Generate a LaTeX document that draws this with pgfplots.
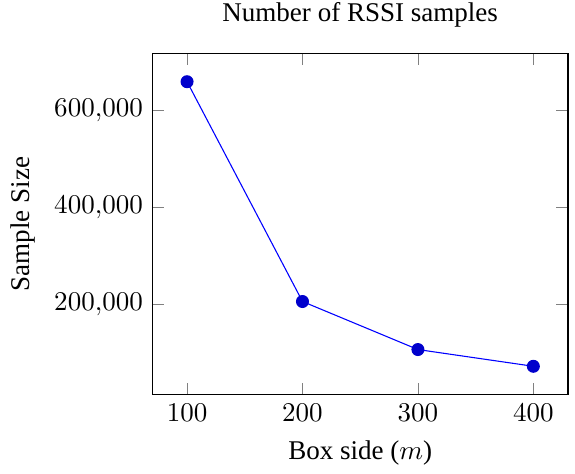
\documentclass[border=0pt]{standalone}
\usepackage{fontspec}
\setmainfont{Liberation Serif}
\usepackage{pgfplots}
\pgfplotsset{compat=1.18}
\begin{document}
\begin{tikzpicture}
\begin{axis}[
  scale only axis,
  width=153.7pt, height=126.3pt,
  title={Number of RSSI samples},
  title style={inner ysep=1pt, yshift=2.33pt},
  xlabel={Box side ($m$)},
  ylabel={Sample Size},
  xtick={100,200,300,400},
  ytick={200000,400000,600000},
  scaled y ticks=false,
  yticklabel={\pgfmathprintnumber[fixed,1000 sep={\mathord{,}}]{\tick}},
]
\addplot[color=blue, mark=*, mark size=2.2pt, mark options={fill=blue!80!black, draw=blue!80!black}] coordinates {
 (100,658500) (200,205500) (300,106500) (400,72000)
};
\end{axis}
\path ([xshift=2.6pt]current axis.east);
\path ([xshift=-0.8pt]current axis.outer west);
\end{tikzpicture}
\end{document}
